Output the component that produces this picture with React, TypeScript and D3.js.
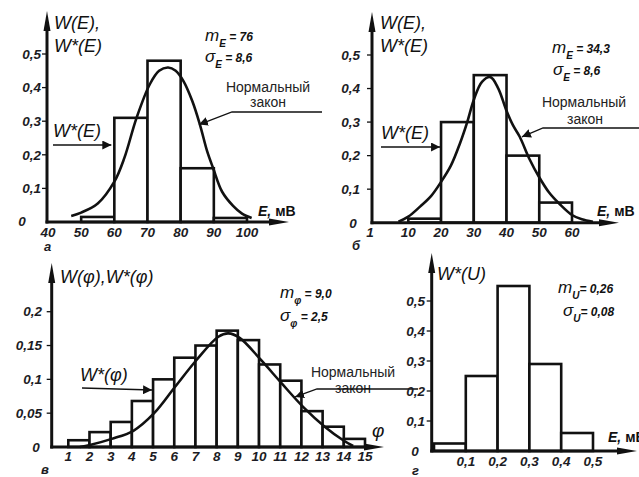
import React from "react";
import * as d3 from "d3";

// панель а
const aEdges = [50, 60, 70, 80, 90, 100];
const aFreq = [0.015, 0.31, 0.48, 0.16, 0.012];
const aCurveE = [47, 50, 55, 60, 63, 66.7, 70.7, 73.5, 76.2, 78.5, 80.8, 83.5, 85.8, 88, 89.8, 92.5, 95.8, 98.5, 101.4];
const aCurveW = [0.018, 0.028, 0.055, 0.12, 0.19, 0.31, 0.41, 0.45, 0.46, 0.45, 0.42, 0.36, 0.29, 0.21, 0.16, 0.09, 0.048, 0.025, 0.012];
const aXTicks = [40, 50, 60, 70, 80, 90, 100];
const aYTicks = [0.1, 0.2, 0.3, 0.4, 0.5];

// панель б
const bEdges = [10, 20, 30, 40, 50, 60];
const bFreq = [0.012, 0.3, 0.44, 0.2, 0.06];
const bCurveE = [7, 10, 13.6, 17, 19.9, 23, 25.8, 28, 30, 32.5, 35.1, 37.5, 39.9, 42, 44, 47, 49.9, 53, 56.3, 60, 63, 66.4];
const bCurveW = [0.003, 0.018, 0.048, 0.08, 0.12, 0.17, 0.237, 0.3, 0.366, 0.42, 0.434, 0.4, 0.336, 0.29, 0.257, 0.19, 0.137, 0.09, 0.055, 0.023, 0.01, 0.003];
const bXTicks = [10, 20, 30, 40, 50, 60];
const bYTicks = [0.1, 0.2, 0.3, 0.4, 0.5];

// панель в
const cEdges = [1, 2, 3, 4, 5, 6, 7, 8, 9, 10, 11, 12, 13, 14, 15];
const cFreq = [0.01, 0.022, 0.037, 0.068, 0.1, 0.132, 0.15, 0.172, 0.158, 0.122, 0.098, 0.053, 0.03, 0.012];
const cCurveX = [1.55, 2.02, 3.05, 4.07, 5.05, 6.04, 7.06, 8.08, 8.55, 9.1, 10.08, 11.07, 12.09, 13.1, 13.97, 14.44];
const cCurveW = [0, 0.003, 0.012, 0.024, 0.05, 0.089, 0.129, 0.163, 0.168, 0.161, 0.129, 0.094, 0.059, 0.03, 0.01, 0.0015];
const cXTicks = [1, 2, 3, 4, 5, 6, 7, 8, 9, 10, 11, 12, 13, 14, 15];
const cYTicks = [0.05, 0.1, 0.15, 0.2];

// панель г
const dEdges = [0, 0.1, 0.2, 0.3, 0.4, 0.5];
const dFreq = [0.025, 0.25, 0.55, 0.29, 0.06];
const dXTicks = [0.1, 0.2, 0.3, 0.4, 0.5];
const dYTicks = [0.1, 0.2, 0.3, 0.4, 0.5];

const FONT = "'Liberation Sans', Arial, sans-serif";
const INK = "#111";
const comma = (v: number) => String(v).replace(".", ",");

const tickStyle: React.CSSProperties = { fontFamily: FONT, fontSize: 13.5, fontWeight: 700, fontStyle: "italic", fill: "#1c1c24" };

function Panel(props: any) {
  const { x, y, edges, freq, cx, cw, xTicks, yTicks, ax, yTop, xEnd, xLabY, yLabR, zero, origin } = props;
  const ay = y(0);
  const line = d3.line<number>().x((_, i) => x(cx[i])).y((d) => y(d)).curve(d3.curveCatmullRom.alpha(0.5));
  return (
    <g>
      {freq.map((f: number, i: number) => (
        <rect key={i} x={x(edges[i])} y={y(f)} width={x(edges[i + 1]) - x(edges[i])} height={ay - y(f)}
          fill="white" stroke={INK} strokeWidth={2.6} />
      ))}
      {cx && <path d={line(cw) || ""} fill="none" stroke={INK} strokeWidth={2.6} />}
      <line x1={ax} x2={ax} y1={ay + 1.5} y2={yTop + 14} stroke={INK} strokeWidth={3} />
      <path d={`M${ax},${yTop} L${ax + 3.5},${yTop + 20} L${ax - 3.5},${yTop + 20} Z`} fill={INK} />
      <line x1={ax - 1.5} x2={xEnd - 12} y1={ay} y2={ay} stroke={INK} strokeWidth={3} />
      <path d={`M${xEnd},${ay} L${xEnd - 20},${ay - 3.5} L${xEnd - 20},${ay + 3.5} Z`} fill={INK} />
      {yTicks.map((t: number) => (
        <g key={t}>
          <line x1={ax - 5} x2={ax} y1={y(t)} y2={y(t)} stroke={INK} strokeWidth={1.3} />
          <text x={yLabR} y={y(t)} dy="0.35em" textAnchor="end" style={tickStyle}>{comma(t)}</text>
        </g>
      ))}
      <text x={zero[0]} y={ay + zero[1]} textAnchor="middle" style={tickStyle}>0</text>
      {xTicks.map((t: number) => (
        <text key={t} x={x(t)} y={xLabY} textAnchor="middle" style={tickStyle}>{comma(t)}</text>
      ))}
      {origin && <text x={ax - 2} y={xLabY} textAnchor="middle" style={tickStyle}>{origin}</text>}
    </g>
  );
}

const italic: React.CSSProperties = { fontFamily: FONT, fontStyle: "italic", fill: INK };
const normal: React.CSSProperties = { fontFamily: FONT, fill: "#222" };

function Stat({ xx, yy, sym, sub, val, big = 17 }: any) {
  return (
    <text x={xx} y={yy} style={italic}>
      <tspan fontSize={big}>{sym}</tspan>
      <tspan dy={6} fontSize={10} fontWeight={700}>{sub}</tspan>
      <tspan dy={-6} fontSize={12} fontWeight={700}>{val}</tspan>
    </text>
  );
}

function Leader({ tip, knee, end }: any) {
  return <path d={`M${end[0]},${end[1]} L${knee[0]},${knee[1]} L${tip[0]},${tip[1]}`} fill="none" stroke={INK} strokeWidth={1.3} markerEnd="url(#tip)" />;
}

function Pointer({ from, to }: any) {
  return <line x1={from[0]} y1={from[1]} x2={to[0]} y2={to[1]} stroke={INK} strokeWidth={1.4} markerEnd="url(#tip)" />;
}

export default function App() {
  const xa = d3.scaleLinear().domain([40, 100]).range([48, 247]);
  const ya = d3.scaleLinear().domain([0, 0.5]).range([222, 54]);
  const xb = d3.scaleLinear().domain([10, 60]).range([408.3, 572]);
  const yb = d3.scaleLinear().domain([0, 0.5]).range([222.7, 55]);
  const xc = d3.scaleLinear().domain([1, 15]).range([68.3, 365]);
  const yc = d3.scaleLinear().domain([0, 0.2]).range([447, 311.7]);
  const xd = d3.scaleLinear().domain([0, 0.5]).range([434, 593]);
  const yd = d3.scaleLinear().domain([0, 0.5]).range([451, 301]);

  const label = (s: string, xx: number, yy: number) => (
    <text x={xx} y={yy} style={{ ...tickStyle, fontSize: 13 }}>{s}</text>
  );

  return (
    <svg width={639} height={477} style={{ position: "absolute", left: 0, top: 0, background: "white" }}>
      <defs>
        <marker id="tip" viewBox="0 0 10 10" refX="10" refY="5" markerWidth="9" markerHeight="9" markerUnits="userSpaceOnUse" orient="auto">
          <path d="M0,0 L10,5 L0,10 Z" fill={INK} />
        </marker>
      </defs>
      <rect width={639} height={477} fill="white" />

      {/* а */}
      <Panel x={xa} y={ya} edges={aEdges} freq={aFreq} cx={aCurveE} cw={aCurveW} xTicks={aXTicks} yTicks={aYTicks}
        ax={47} yTop={11} xEnd={289} xLabY={237} yLabR={41} zero={[22, 4]} />
      <text x={54} y={29} style={{ ...italic, fontSize: 18 }}>W(E),</text>
      <text x={54} y={52} style={{ ...italic, fontSize: 18 }}>W*(E)</text>
      <Stat xx={205} yy={41} sym="m" sub="E" val=" = 76" />
      <Stat xx={205} yy={62} sym="σ" sub="E" val=" = 8,6" />
      <text x={268} y={92} textAnchor="middle" style={{ ...normal, fontSize: 14 }}>Нормальный</text>
      <text x={268} y={107} textAnchor="middle" style={{ ...normal, fontSize: 14 }}>закон</text>
      <Leader tip={[xa(85.5), ya(0.29)]} knee={[232, 112]} end={[322, 112]} />
      <text x={53} y={137} style={{ ...italic, fontSize: 18 }}>W*(E)</text>
      <Pointer from={[53, 145]} to={[xa(60) - 3, 145]} />
      <text x={258} y={216} style={{ ...tickStyle, fontSize: 14, fill: INK }}>E, <tspan fontStyle="normal">мВ</tspan></text>
      {label("а", 44, 251)}

      {/* б */}
      <Panel x={xb} y={yb} edges={bEdges} freq={bFreq} cx={bCurveE} cw={bCurveW} xTicks={bXTicks} yTicks={bYTicks}
        ax={372} yTop={12} xEnd={619} xLabY={237} yLabR={360} zero={[353, 5]} origin="1" />
      <text x={380} y={29} style={{ ...italic, fontSize: 18 }}>W(E),</text>
      <text x={380} y={52} style={{ ...italic, fontSize: 18 }}>W*(E)</text>
      <Stat xx={552} yy={53} sym="m" sub="E" val=" = 34,3" />
      <Stat xx={553} yy={75} sym="σ" sub="E" val=" = 8,6" />
      <text x={584} y={107} textAnchor="middle" style={{ ...normal, fontSize: 14 }}>Нормальный</text>
      <text x={585} y={124} textAnchor="middle" style={{ ...normal, fontSize: 14 }}>закон</text>
      <Leader tip={[xb(44.7), yb(0.256)]} knee={[543, 128]} end={[640, 128]} />
      <text x={381} y={139} style={{ ...italic, fontSize: 18 }}>W*(E)</text>
      <Pointer from={[381, 147]} to={[xb(20) - 1, 147]} />
      <text x={597} y={216} style={{ ...tickStyle, fontSize: 14, fill: INK }}>E, <tspan fontStyle="normal">мВ</tspan></text>
      {label("б", 352, 250)}

      {/* в */}
      <Panel x={xc} y={yc} edges={cEdges} freq={cFreq} cx={cCurveX} cw={cCurveW} xTicks={cXTicks} yTicks={cYTicks}
        ax={51.7} yTop={263} xEnd={384} xLabY={461} yLabR={42} zero={[36, 5]} />
      <text x={60} y={283} style={{ ...italic, fontSize: 18 }}>W(φ),W*(φ)</text>
      <Stat xx={280} yy={298} sym="m" sub="φ" val=" = 9,0" />
      <Stat xx={280} yy={321} sym="σ" sub="φ" val=" = 2,5" />
      <text x={353} y={377} textAnchor="middle" style={{ ...normal, fontSize: 14 }}>Нормальный</text>
      <text x={353} y={393} textAnchor="middle" style={{ ...normal, fontSize: 14 }}>закон</text>
      <Leader tip={[xc(11.7), yc(0.074)]} knee={[317, 389]} end={[418, 389]} />
      <text x={80} y={381} style={{ ...italic, fontSize: 18 }}>W*(φ)</text>
      <Pointer from={[82, 388]} to={[xc(5) - 1, 390]} />
      <text x={372} y={437} style={{ ...italic, fontSize: 19 }}>φ</text>
      {label("в", 41, 474)}

      {/* г */}
      <Panel x={xd} y={yd} edges={dEdges} freq={dFreq} xTicks={dXTicks} yTicks={dYTicks}
        ax={431.7} yTop={253} xEnd={637} xLabY={466} yLabR={425} zero={[415, 5]} />
      <text x={437} y={280} style={{ ...italic, fontSize: 18 }}>W*(U)</text>
      <Stat xx={558} yy={293} sym="m" sub="U" val="= 0,26" />
      <Stat xx={563} yy={316} sym="σ" sub="U" val="= 0,08" />
      <text x={608} y={442} style={{ ...tickStyle, fontSize: 14, fill: INK }}>E, <tspan fontStyle="normal">мВ</tspan></text>
      {label("г", 412, 475)}
    </svg>
  );
}
